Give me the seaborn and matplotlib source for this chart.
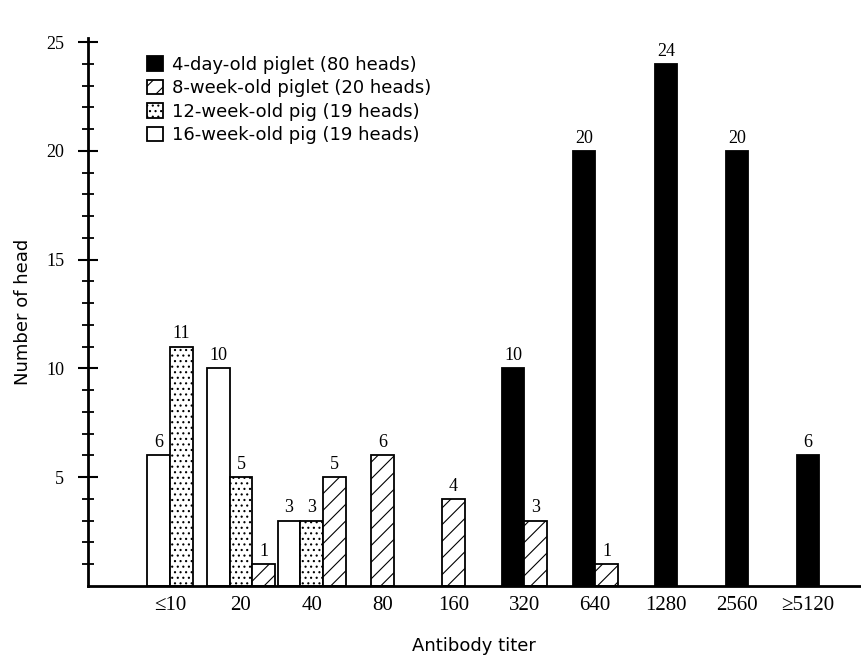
import matplotlib
matplotlib.use("Agg")
import matplotlib.pyplot as plt
import numpy as np
import pandas as pd
import seaborn as sns

# antibody titer categories and number of heads per age group
titers = ["≤10", "20", "40", "80", "160", "320", "640", "1280", "2560", "≥5120"]
day4 = [0, 0, 0, 0, 0, 10, 20, 24, 20, 6]
week8 = [0, 1, 5, 6, 4, 3, 1, 0, 0, 0]
week12 = [11, 5, 3, 0, 0, 0, 0, 0, 0, 0]
week16 = [6, 10, 3, 0, 0, 0, 0, 0, 0, 0]

legend_labels = {
    "day4": "4-day-old piglet (80 heads)",
    "week8": "8-week-old piglet (20 heads)",
    "week12": "12-week-old pig (19 heads)",
    "week16": "16-week-old pig (19 heads)",
}
counts = {"day4": day4, "week16": week16, "week12": week12, "week8": week8}
draw_order = ["day4", "week16", "week12", "week8"]
legend_order = ["day4", "week8", "week12", "week16"]

sns.set_style("white")
plt.rcParams["hatch.linewidth"] = 0.8
plt.rcParams["font.family"] = ["DejaVu Sans"]
for k in ["text.color", "axes.labelcolor", "xtick.color", "ytick.color", "axes.edgecolor"]:
    plt.rcParams[k] = "black"
serif = ["Liberation Serif", "DejaVu Serif"]

# bars of one titer sit side by side, only the groups that have heads there
bar_w = 0.32
rows = []
for i, t in enumerate(titers):
    present = [g for g in draw_order if counts[g][i] > 0]
    n = len(present)
    for k, g in enumerate(present):
        rows.append({"pos": round(i + (k - (n - 1) / 2) * bar_w, 4),
                     "count": counts[g][i], "group": g})
df = pd.DataFrame(rows)

fig = plt.figure(figsize=(8.61, 6.62), dpi=100)
ax = fig.add_axes([0.102, 0.115, 0.898, 0.828])

palette = {"day4": "black", "week8": "white", "week12": "white", "week16": "white"}
hatches = {"day4": "", "week8": "//", "week12": "...", "week16": ""}

sns.barplot(data=df, x="pos", y="count", hue="group", hue_order=draw_order,
            palette=palette, native_scale=True, dodge=False, width=1.0,
            edgecolor="black", linewidth=1.3, legend=False, ax=ax)

handles = {}
for g, cont in zip(draw_order, ax.containers):
    for p in cont.patches:
        p.set_hatch(hatches[g])
    handles[g] = cont.patches[0] if len(cont.patches) else None
    ax.bar_label(cont, fmt="%d", padding=3, fontsize=13, family=serif)

ax.set_xlim(-1.16, len(titers) - 0.25)
ax.set_ylim(0, 25.2)

ax.set_xticks(range(len(titers)))
ax.set_xticklabels(titers, fontsize=15, family=serif)
ax.tick_params(axis="x", length=0, pad=7)

ax.set_yticks([5, 10, 15, 20, 25])
ax.set_yticks([v for v in range(1, 26) if v % 5], minor=True)
ax.set_yticklabels(["5", "10", "15", "20", "25"], fontsize=13, family=serif)
ax.tick_params(axis="y", which="major", direction="inout", length=14, width=1.5,
               left=True, pad=10)
ax.tick_params(axis="y", which="minor", direction="inout", length=9, width=1.3,
               left=True)

for s in ["top", "right"]:
    ax.spines[s].set_visible(False)
ax.spines["left"].set_linewidth(2)
ax.spines["bottom"].set_linewidth(2)

ax.set_xlabel("Antibody titer", fontsize=13, labelpad=16)
ax.set_ylabel("Number of head", fontsize=13, labelpad=10)

ax.legend([handles[g] for g in legend_order],
          [legend_labels[g] for g in legend_order],
          loc="upper left", bbox_to_anchor=(0.077, 0.967), frameon=False,
          fontsize=13, handlelength=0.85, handleheight=0.85, handletextpad=0.5,
          labelspacing=0.3, borderpad=0, borderaxespad=0)

plt.savefig("out.png", dpi=100)
